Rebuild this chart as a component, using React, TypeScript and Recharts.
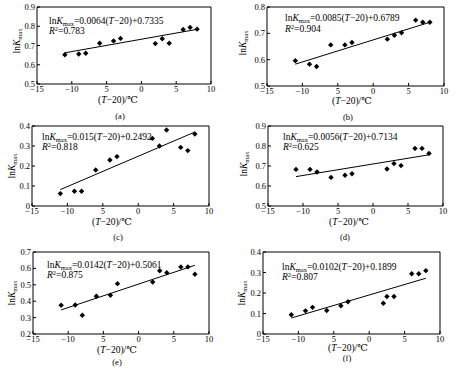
import React from 'react';
import { ScatterChart, Scatter, XAxis, YAxis, ReferenceArea } from 'recharts';

const FONT = '"Liberation Serif", "Times New Roman", "DejaVu Serif", serif';

// shared x axis (the minus of -5 is missing in the original figure)
const xTicks = [-15, -10, -5, 0, 5, 10];
const xLabels = ['−15', '−10', '5', '0', '5', '10'];
const tempDiff = [-11, -9, -8, -6, -4, -3, 2, 3, 4, 6, 7, 8];
const tempDiffF = [-11, -9, -8, -6, -4, -3, 2, 2.5, 3.5, 6, 7, 8];

// lnKmax values per panel
const lnkA = [0.652, 0.656, 0.66, 0.712, 0.724, 0.737, 0.71, 0.735, 0.712, 0.783, 0.794, 0.785];
const lnkB = [0.596, 0.583, 0.574, 0.656, 0.656, 0.665, 0.678, 0.693, 0.702, 0.75, 0.742, 0.742];
const lnkC = [0.062, 0.074, 0.074, 0.18, 0.23, 0.247, 0.338, 0.3, 0.38, 0.293, 0.277, 0.36];
const lnkD = [0.683, 0.683, 0.67, 0.643, 0.654, 0.661, 0.685, 0.712, 0.702, 0.788, 0.788, 0.763];
const lnkE = [0.375, 0.377, 0.314, 0.43, 0.436, 0.507, 0.517, 0.586, 0.574, 0.609, 0.609, 0.564];
const lnkF = [0.094, 0.113, 0.13, 0.115, 0.138, 0.157, 0.15, 0.183, 0.183, 0.294, 0.294, 0.309];

// fitted line end points
const fitA = [[-11, 0.662], [8, 0.784]];
const fitB = [[-11, 0.583], [8, 0.742]];
const fitC = [[-11, 0.082], [8, 0.37]];
const fitD = [[-11, 0.647], [8, 0.756]];
const fitE = [[-11, 0.347], [8, 0.619]];
const fitF = [[-11, 0.078], [8, 0.272]];

// equations
const slopes = ['0.0064', '0.0085', '0.015', '0.0056', '0.0142', '0.0102'];
const intercepts = ['0.7335', '0.6789', '0.2492', '0.7134', '0.5061', '0.1899'];
const r2s = ['0.783', '0.904', '0.818', '0.625', '0.875', '0.807'];
const captions = ['(a)', '(b)', '(c)', '(d)', '(e)', '(f)'];

const ticksA = [0.5, 0.6, 0.7, 0.8, 0.9];
const ticksB = [0.5, 0.6, 0.7, 0.8];
const ticksC = [0, 0.1, 0.2, 0.3, 0.4];
const ticksE = [0.2, 0.3, 0.4, 0.5, 0.6, 0.7];

const panels = [
  { xs: tempDiff, ys: lnkA, fit: fitA, yTicks: ticksA,
    box: { left: 37, top: 7, w: 174, h: 77 }, eq: [49, 22], r2: [49, 32], yl: [17, 41], xl: [118, 100], cap: [120, 116] },
  { xs: tempDiff, ys: lnkB, fit: fitB, yTicks: ticksB,
    box: { left: 267, top: 7, w: 177, h: 79 }, eq: [285, 19], r2: [285, 30], yl: [243, 43], xl: [352, 101], cap: [348, 117] },
  { xs: tempDiff, ys: lnkC, fit: fitC, yTicks: ticksC,
    box: { left: 32, top: 126, w: 177, h: 80 }, eq: [42, 138], r2: [42, 148], yl: [12, 166], xl: [112, 222], cap: [118, 237] },
  { xs: tempDiff, ys: lnkD, fit: fitD, yTicks: ticksA,
    box: { left: 268, top: 126, w: 175, h: 80 }, eq: [283, 138], r2: [283, 148], yl: [244, 164], xl: [349, 222], cap: [345, 237] },
  { xs: tempDiff, ys: lnkE, fit: fitE, yTicks: ticksE,
    box: { left: 33, top: 252, w: 176, h: 82 }, eq: [47, 266], r2: [47, 276], yl: [12, 293], xl: [117, 350], cap: [117, 362] },
  { xs: tempDiffF, ys: lnkF, fit: fitF, yTicks: ticksC,
    box: { left: 263, top: 252, w: 177, h: 82 }, eq: [282, 268], r2: [282, 278], yl: [242, 293], xl: [348, 347.5], cap: [347, 358] },
];

const Diamond = (props: any) => {
  const { cx, cy } = props;
  const r = 2.7;
  return <polygon points={`${cx},${cy - r} ${cx + r},${cy} ${cx},${cy + r} ${cx - r},${cy}`} fill="#000" />;
};

const XTick = (props: any) => {
  const { x, y, payload } = props;
  const i = xTicks.indexOf(payload.value);
  return (
    <g>
      <line x1={x} y1={y} x2={x} y2={y - 3} stroke="#000" />
      <text x={x} y={y + 7.5} textAnchor="middle" fontSize={8.5} fontFamily={FONT} fill="#000">
        {xLabels[i]}
      </text>
    </g>
  );
};

const YTick = (props: any) => {
  const { x, y, payload } = props;
  const label = payload.value === 0 ? '0' : payload.value.toFixed(1);
  return (
    <g>
      <line x1={x} y1={y} x2={x + 3} y2={y} stroke="#000" />
      <text x={x - 2} y={y + 3} textAnchor="end" fontSize={8.5} fontFamily={FONT} fill="#000">
        {label}
      </text>
    </g>
  );
};

const txt: React.CSSProperties = { position: 'absolute', fontFamily: FONT, fontSize: 9.5, whiteSpace: 'nowrap', lineHeight: '11px', color: '#000' };

const Panel = ({ p, i }: { p: any; i: number }) => {
  const { box } = p;
  const pts = p.xs.map((x: number, k: number) => ({ x, y: p.ys[k] }));
  const line = p.fit.map((f: number[]) => ({ x: f[0], y: f[1] }));
  const yMin = p.yTicks[0];
  const yMax = p.yTicks[p.yTicks.length - 1];
  return (
    <>
      <div style={{ position: 'absolute', left: box.left - 30, top: box.top - 6 }}>
        <ScatterChart width={box.w + 40} height={box.h + 22} margin={{ top: 6, right: 10, left: 0, bottom: 0 }}>
          <XAxis type="number" dataKey="x" domain={[-15, 10]} ticks={xTicks} interval={0} height={16}
            tickSize={0} tickMargin={0} axisLine={false} tickLine={false} tick={<XTick />} />
          <YAxis type="number" dataKey="y" domain={[yMin, yMax]} ticks={p.yTicks} interval={0} width={30}
            tickSize={0} tickMargin={0} axisLine={false} tickLine={false} tick={<YTick />} />
          <ReferenceArea x1={-15} x2={10} y1={yMin} y2={yMax} fill="none" fillOpacity={0} stroke="#000" strokeWidth={1} />
          <Scatter data={line} line={{ stroke: '#000', strokeWidth: 1 }} shape={() => <g />} isAnimationActive={false} />
          <Scatter data={pts} shape={<Diamond />} isAnimationActive={false} />
        </ScatterChart>
      </div>
      <div style={{ ...txt, left: p.eq[0], top: p.eq[1] - 6 }}>
        ln<i>K</i><span style={{ fontSize: 6.5, position: 'relative', top: 2 }}>max</span>={slopes[i]}(<i>T</i>−20)+{intercepts[i]}
      </div>
      <div style={{ ...txt, left: p.r2[0], top: p.r2[1] - 6 }}>
        <i>R</i><span style={{ fontSize: 6.5, position: 'relative', top: -3 }}>2</span>={r2s[i]}
      </div>
      <div style={{ ...txt, left: p.yl[0], top: p.yl[1], transform: 'translate(-50%, -50%) rotate(-90deg)' }}>
        ln<i>K</i><span style={{ fontSize: 6.5, position: 'relative', top: 2 }}>max</span>
      </div>
      <div style={{ ...txt, left: p.xl[0], top: p.xl[1], transform: 'translate(-50%, -50%)' }}>
        (<i>T</i>−20)/℃
      </div>
      <div style={{ ...txt, fontSize: 8.5, left: p.cap[0], top: p.cap[1], transform: 'translate(-50%, -50%)' }}>
        {captions[i]}
      </div>
    </>
  );
};

export default function App() {
  return (
    <div style={{ position: 'absolute', left: 0, top: 0, width: 459, height: 369, background: '#fff', overflow: 'hidden' }}>
      {panels.map((p, i) => (
        <Panel key={i} p={p} i={i} />
      ))}
    </div>
  );
}
